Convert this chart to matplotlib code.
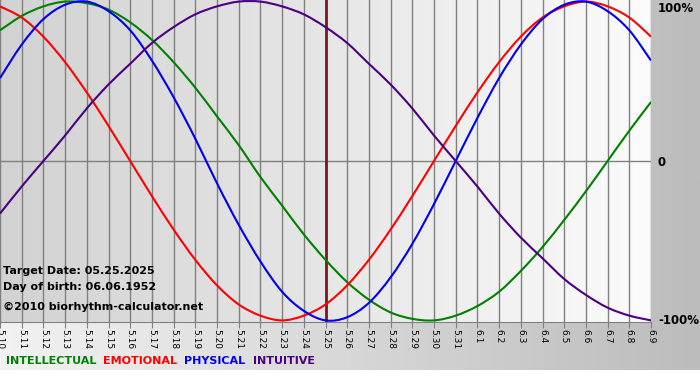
import numpy as np
import matplotlib
matplotlib.use("Agg")
import matplotlib.pyplot as plt
from matplotlib.path import Path
from matplotlib.patches import PathPatch

# day labels (May 10 .. June 9)
days = ["5.10", "5.11", "5.12", "5.13", "5.14", "5.15", "5.16", "5.17", "5.18",
        "5.19", "5.20", "5.21", "5.22", "5.23", "5.24", "5.25", "5.26", "5.27",
        "5.28", "5.29", "5.30", "5.31", "6.1", "6.2", "6.3", "6.4", "6.5",
        "6.6", "6.7", "6.8", "6.9"]
target_day = "5.25"

# values, one per day (-1 .. 1)
physical = [0.52, 0.73, 0.89, 0.98, 1.00, 0.94, 0.82, 0.63, 0.40, 0.14, -0.14,
            -0.40, -0.63, -0.82, -0.94, -1.00, -0.98, -0.89, -0.73, -0.52, -0.27,
            0.00, 0.27, 0.52, 0.73, 0.89, 0.98, 1.00, 0.94, 0.82, 0.63]
emotional = [0.97, 0.90, 0.78, 0.62, 0.43, 0.22, 0.00, -0.22, -0.43, -0.62, -0.78,
             -0.90, -0.97, -1.00, -0.97, -0.90, -0.78, -0.62, -0.43, -0.22, 0.00,
             0.22, 0.43, 0.62, 0.78, 0.90, 0.97, 1.00, 0.97, 0.90, 0.78]
intellectual = [0.82, 0.91, 0.97, 1.00, 0.99, 0.95, 0.87, 0.76, 0.62, 0.46, 0.28,
                0.10, -0.10, -0.28, -0.46, -0.62, -0.76, -0.87, -0.95, -0.99, -1.00,
                -0.97, -0.91, -0.82, -0.69, -0.54, -0.37, -0.19, 0.00, 0.19, 0.37]
intuitive = [-0.33, -0.16, 0.00, 0.16, 0.33, 0.48, 0.61, 0.74, 0.84, 0.92, 0.97,
             1.00, 1.00, 0.97, 0.92, 0.84, 0.74, 0.61, 0.48, 0.33, 0.16,
             0.00, -0.16, -0.33, -0.48, -0.61, -0.74, -0.84, -0.92, -0.97, -1.00]


def smooth_path(xs, ys):
    # catmull-rom through the daily points, drawn as bezier segments
    pts = np.column_stack([xs, ys]).astype(float)
    verts = [pts[0]]
    codes = [Path.MOVETO]
    n = len(pts)
    for i in range(n - 1):
        p0 = pts[max(i - 1, 0)]
        p1 = pts[i]
        p2 = pts[i + 1]
        p3 = pts[min(i + 2, n - 1)]
        verts += [p1 + (p2 - p0) / 6, p2 - (p3 - p1) / 6, p2]
        codes += [Path.CURVE4] * 3
    return Path(verts, codes)


W, H = 700, 380
fig = plt.figure(figsize=(W / 100, H / 100), dpi=100)
fig.patch.set_facecolor("white")

# figure background gradient (gray band, white strip at bottom)
bg = fig.add_axes([0, 10 / H, 1, 1 - 10 / H], zorder=0)
grad = np.linspace(0, 1, 256).reshape(1, -1)
bg.imshow(grad, aspect="auto", cmap=matplotlib.colors.LinearSegmentedColormap.from_list(
    "bg", ["#f2f2f2", "#bcbcbc"]), extent=[0, 1, 0, 1])
bg.set_axis_off()

x = np.arange(len(days))
ax = fig.add_axes([0, 1 - 322 / H, 651 / W, 322 / H], zorder=1)
ax.set_xlim(0, len(days) - 1)
ax.set_ylim(-1.01, 1.01)
ax.imshow(grad, aspect="auto", zorder=0,
          cmap=matplotlib.colors.LinearSegmentedColormap.from_list("pa", ["#d2d2d2", "#fbfbfb"]),
          extent=[0, len(days) - 1, -1.01, 1.01])

for xi in x:
    ax.axvline(xi, color="#808080", lw=1, zorder=1)
ax.axhline(0, color="#808080", lw=1, zorder=1)
ax.axvline(days.index(target_day), color="#7a1a1a", lw=2, zorder=3)

series = [(intellectual, "#008000"), (emotional, "#ff0000"),
          (physical, "#0000ee"), (intuitive, "#4b0082")]
for vals, c in series:
    ax.add_patch(PathPatch(smooth_path(x, vals), facecolor="none", edgecolor=c,
                           lw=1.5, zorder=4))

for s in ["top", "left", "right"]:
    ax.spines[s].set_visible(False)
ax.spines["bottom"].set_color("#808080")

ax.set_xticks(x)
ax.set_xticklabels(days, rotation=-90, fontsize=6.5, family="DejaVu Sans")
ax.tick_params(axis="x", length=4, color="#808080", pad=1)

ax.yaxis.tick_right()
ax.set_yticks([-1, 0, 1])
ax.set_yticklabels(["-100%", "0", "100%"], fontsize=8.5, fontweight="bold")
ax.tick_params(axis="y", length=0, pad=5)
ax.get_yticklabels()[2].set_va("top")
ax.get_yticklabels()[0].set_va("center")

info = ["Target Date: 05.25.2025", "Day of birth: 06.06.1952",
        "©2010 biorhythm-calculator.net"]
info_y = [271, 287, 307]
for txt, yy in zip(info, info_y):
    ax.text(3 / 651, 1 - yy / 322, txt, transform=ax.transAxes, fontsize=8,
            fontweight="bold", va="center", zorder=5)

# legend row
names = ["INTELLECTUAL", "EMOTIONAL", "PHYSICAL", "INTUITIVE"]
colors = ["#008000", "#ff0000", "#0000ee", "#4b0082"]
xpos = 6
renderer = fig.canvas.get_renderer()
for name, c in zip(names, colors):
    t = fig.text(xpos / W, 1 - 361 / H, name, color=c, fontsize=8,
                 fontweight="bold", va="center", ha="left")
    bb = t.get_window_extent(renderer=renderer)
    xpos += bb.width + 7

fig.savefig("out.png", dpi=100)
